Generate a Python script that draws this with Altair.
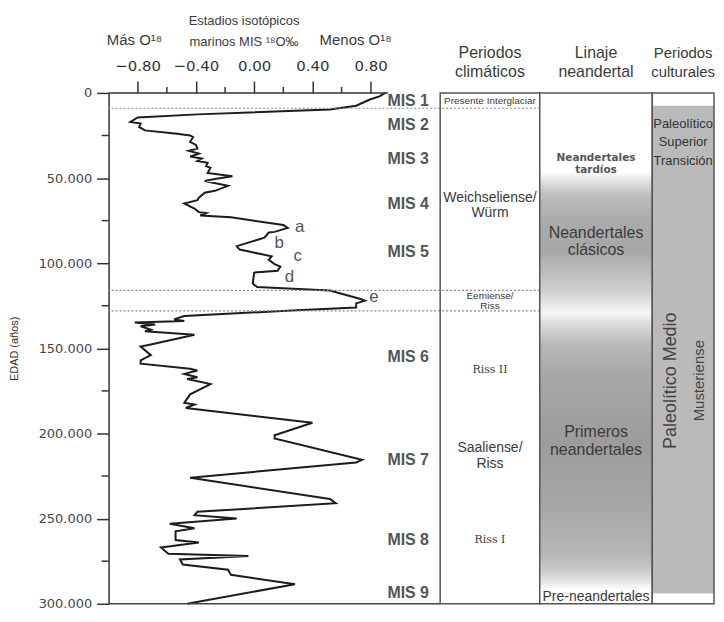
import altair as alt
import pandas as pd

# ---------------- data ----------------
# delta 18O curve (age in thousands of years, value in per mil)
age_k = [0, 2, 4, 7.5, 9.8, 12.6, 14.4, 17, 18, 20, 22, 24, 25, 26, 28.7, 30.5, 32.7, 34, 35.6,
         37.4, 38.5, 40, 41, 43, 44, 47, 49, 50.6, 51.7, 54.6, 57.5, 58.6, 61.5, 63, 65, 68, 70,
         70.5, 72, 73, 77.6, 79.3, 81.6, 82, 85, 90, 92, 96, 98, 100.5, 102, 104.5, 105.5, 112,
         114, 116, 121, 122, 123.6, 126, 127.6, 131, 133, 134, 134.8, 136, 137, 139, 140, 142,
         147.7, 149, 154, 157, 159, 162, 163, 165, 167, 168, 171, 177, 182, 183, 185, 193.7, 201,
         203, 215.5, 217, 226, 238.5, 241, 246, 248, 250, 253, 255.7, 257.5, 262.6, 264, 267,
         270.7, 272, 274, 277, 280, 283, 288.5, 300]
d18o = [0.90, 0.86, 0.79, 0.70, 0.52, -0.39, -0.80, -0.85, -0.78, -0.79, -0.75, -0.53, -0.44,
        -0.42, -0.44, -0.40, -0.39, -0.45, -0.38, -0.44, -0.36, -0.39, -0.32, -0.33, -0.30, -0.32,
        -0.15, -0.27, -0.34, -0.18, -0.27, -0.34, -0.38, -0.39, -0.48, -0.41, -0.38, -0.33, -0.37,
        -0.16, 0.20, 0.23, 0.14, 0.10, 0.07, -0.12, -0.10, 0.12, 0.10, 0.14, 0.18, 0.16, 0.00,
        -0.01, 0.02, 0.52, 0.73, 0.76, 0.70, 0.70, 0.29, -0.48, -0.55, -0.48, -0.82, -0.68, -0.78,
        -0.71, -0.75, -0.41, -0.71, -0.78, -0.71, -0.78, -0.78, -0.44, -0.39, -0.48, -0.39, -0.46,
        -0.30, -0.44, -0.48, -0.41, -0.47, 0.40, 0.14, 0.14, 0.74, 0.70, -0.44, 0.52, 0.56, -0.39,
        -0.41, -0.12, -0.58, -0.41, -0.54, -0.54, -0.38, -0.64, -0.59, -0.04, -0.51, -0.49, -0.18,
        -0.16, 0.28, -0.46]

mis_labels = ["MIS 1", "MIS 2", "MIS 3", "MIS 4", "MIS 5", "MIS 6", "MIS 7", "MIS 8", "MIS 9"]
mis_age_k = [4.6, 19, 39, 65, 93.7, 155, 215.5, 262.6, 293.7]

peak_labels = ["a", "b", "c", "d", "e"]
peak_x = [0.28, 0.14, 0.27, 0.21, 0.79]
peak_age_k = [78.7, 88, 96, 108, 120]

boundary_age_k = [9, 116, 128]

x_major = [-0.8, -0.4, 0.0, 0.4, 0.8]
x_minor = [-0.6, -0.2, 0.2, 0.6]
x_axis_extent = [-1.0, 0.92]
y_major = [0, 50000, 100000, 150000, 200000, 250000, 300000]
y_minor = [25000, 75000, 125000, 175000, 225000, 275000]

climate_small_text = ["Presente Interglaciar", "Eemiense/", "Riss"]
climate_small_age_k = [4.6, 119, 125]
climate_main_text = ["Weichseliense/", "Würm", "Saaliense/", "Riss"]
climate_main_age_k = [62, 70.7, 208.6, 218]
climate_serif_text = ["Riss II", "Riss I"]
climate_serif_age_k = [162.6, 262.6]

lineage_small_text = ["Neandertales", "tardíos"]
lineage_small_age_k = [38, 45.5]
lineage_main_text = ["Neandertales", "clásicos", "Primeros", "neandertales"]
lineage_main_age_k = [82.5, 92.5, 199.4, 209.8]
lineage_pre_text = ["Pre-neandertales"]
lineage_pre_age_k = [296]

# lineage shading (age in k, grey level)
shade_age_k = [0, 46, 53, 60, 75, 93, 105, 116, 124, 129, 135, 148, 165, 204, 242, 271, 280, 288, 292, 300]
shade_color = ["#ffffff", "#ffffff", "#dcdcdc", "#bdbdbd", "#aaaaaa", "#a8a8a8", "#bcbcbc", "#cfcfcf",
               "#e6e6e6", "#f6f6f6", "#dedede", "#b8b8b8", "#a8a8a8", "#9c9c9c", "#a6a6a6", "#b6b6b6",
               "#c8c8c8", "#ebebeb", "#ffffff", "#ffffff"]

cultural_span_k = [7.5, 294]
cultural_text = ["Paleolítico", "Superior", "Transición"]
cultural_age_k = [18.4, 28.7, 40.2]
cultural_vertical_text = ["Paleolítico Medio", "Musteriense"]
cultural_vertical_age_k = [169, 169]

# ---------------- chart ----------------
H = 513
W1, W2, W3, W4 = 333, 100, 113, 62
PX_PER_UNIT = 146.25
FONT = "Liberation Sans"
TXT = "#3a3a3a"

yscale = alt.Scale(domain=[0, 300000], reverse=True, nice=False, zero=False)
xscale = alt.Scale(domain=[-1.0, -1.0 + W1 / PX_PER_UNIT], nice=False, zero=False)

AX_X = alt.Axis(
    orient="top", values=x_major, format=".2f", tickSize=12, domain=False, grid=False,
    title=None, labelFontSize=15, labelFont="DejaVu Sans", labelColor="#333",
    labelPadding=8, tickColor="#333", tickWidth=1.5)
AX_Y = alt.Axis(
    orient="left", values=y_major, labelExpr="replace(format(datum.value, ','), ',', '.')",
    tickSize=12, grid=False, labelFontSize=13, labelFont="DejaVu Sans", labelColor="#444",
    labelPadding=5, tickColor="#333", tickWidth=1.5, domainColor="#333", domainWidth=1.5,
    title="EDAD (años)", titleFont=FONT, titleFontSize=11, titleFontWeight="normal",
    titleColor="#333", titlePadding=19)


def df_of(**cols):
    return pd.DataFrame(cols)


def Y(field="age"):
    return alt.Y(f"{field}:Q", scale=yscale, axis=None)


def Y1(field="age"):
    return alt.Y(f"{field}:Q", scale=yscale, axis=AX_Y)


def X1(field="v"):
    return alt.X(f"{field}:Q", scale=xscale, axis=AX_X)


def header(text, x, y, size=16):
    return alt.Chart(pd.DataFrame({"t": [text]})).mark_text(
        font=FONT, fontSize=size, color=TXT, align="center", baseline="middle"
    ).encode(text="t:N", x=alt.value(x), y=alt.value(y))


def frame(w):
    return alt.Chart(pd.DataFrame({"a": [0], "b": [300000]})).mark_rect(
        fillOpacity=0, stroke="#555", strokeWidth=1.5
    ).encode(x=alt.value(0), x2=alt.value(w), y=Y("a"), y2="b:Q")


curve = df_of(age=[a * 1000 for a in age_k], v=d18o)

line = alt.Chart(curve).mark_line(color="#1c1c1c", strokeWidth=2).encode(
    x=X1("v"), y=Y1("age"), order="age:Q")

top_axis = alt.Chart(df_of(v=[x_axis_extent[0]], b=[x_axis_extent[1]], age=[0])).mark_rule(
    color="#333", strokeWidth=1.5).encode(x=X1("v"), x2="b:Q", y=Y1("age"))

minor_x = alt.Chart(df_of(v=x_minor)).mark_rule(color="#333", strokeWidth=1.5).encode(
    x=X1("v"), y=alt.value(-6), y2=alt.value(0))

minor_y = alt.Chart(df_of(age=y_minor)).mark_rule(color="#333", strokeWidth=1.5).encode(
    y=Y1("age"), x=alt.value(-7), x2=alt.value(0))

bounds_df = df_of(age=[a * 1000 for a in boundary_age_k])
dotted1 = alt.Chart(bounds_df).mark_rule(color="#888", strokeDash=[2, 2], strokeWidth=1.2).encode(y=Y1())
dotted = alt.Chart(bounds_df).mark_rule(color="#888", strokeDash=[2, 2], strokeWidth=1.2).encode(y=Y())

bottom = alt.Chart(df_of(age=[300000])).mark_rule(color="#444", strokeWidth=1.5).encode(y=Y1())

mis = alt.Chart(df_of(t=mis_labels, age=[a * 1000 for a in mis_age_k])).mark_text(
    font=FONT, fontSize=16, fontWeight="bold", color="#555", align="left", baseline="middle"
).encode(text="t:N", x=alt.value(280), y=Y1())

peaks = alt.Chart(df_of(t=peak_labels, v=peak_x, age=[a * 1000 for a in peak_age_k])).mark_text(
    font=FONT, fontSize=17, color="#555", align="left", baseline="middle"
).encode(text="t:N", x=X1("v"), y=Y1())

p1 = alt.layer(
    line, dotted1, bottom, top_axis, minor_x, minor_y, mis, peaks,
    header("Estadios isotópicos", 136, -72, 13),
    header("marinos MIS ¹⁸O‰", 136, -51, 13),
    header("Más O¹⁸", 26, -53, 15),
    header("Menos O¹⁸", 248, -53, 15),
).properties(width=W1, height=H)


def col_text(texts, ages_k, w, **kw):
    style = dict(font=FONT, color=TXT, align="center", baseline="middle")
    style.update(kw)
    return alt.Chart(df_of(t=texts, age=[a * 1000 for a in ages_k])).mark_text(**style).encode(
        text="t:N", x=alt.value(w / 2), y=Y())


# climate column
p2 = alt.layer(
    dotted,
    col_text(climate_small_text, climate_small_age_k, W2, fontSize=10),
    col_text(climate_main_text, climate_main_age_k, W2, fontSize=14),
    col_text(climate_serif_text, climate_serif_age_k, W2, fontSize=11, font="DejaVu Serif"),
    frame(W2),
    header("Periodos", W2 / 2, -40),
    header("climáticos", W2 / 2, -21),
).properties(width=W2, height=H)

# lineage column
grad = alt.LinearGradient(
    gradient="linear", x1=0, x2=0, y1=0, y2=1,
    stops=[alt.GradientStop(offset=a / 300, color=c) for a, c in zip(shade_age_k, shade_color)],
)
shade = alt.Chart(df_of(a=[0], b=[300000])).mark_rect(color=grad).encode(
    x=alt.value(0), x2=alt.value(W3), y=Y("a"), y2="b:Q")

p3 = alt.layer(
    shade,
    col_text(lineage_small_text, lineage_small_age_k, W3, fontSize=10.5, fontWeight="bold",
             font="DejaVu Sans", color="#555"),
    col_text(lineage_main_text, lineage_main_age_k, W3, fontSize=16),
    col_text(lineage_pre_text, lineage_pre_age_k, W3, fontSize=14),
    frame(W3),
    header("Linaje", W3 / 2, -40),
    header("neandertal", W3 / 2, -21),
).properties(width=W3, height=H)

# cultural column
cult_fill = alt.Chart(df_of(a=[cultural_span_k[0] * 1000], b=[cultural_span_k[1] * 1000])).mark_rect(
    color="#bababa").encode(x=alt.value(0), x2=alt.value(W4), y=Y("a"), y2="b:Q")

vert_medio = alt.Chart(df_of(t=cultural_vertical_text[:1], age=[cultural_vertical_age_k[0] * 1000])).mark_text(
    font=FONT, fontSize=18, color="#444", angle=270, align="center", baseline="middle"
).encode(text="t:N", y=Y(), x=alt.value(19))
vert_must = alt.Chart(df_of(t=cultural_vertical_text[1:], age=[cultural_vertical_age_k[1] * 1000])).mark_text(
    font=FONT, fontSize=15, color="#444", angle=270, align="center", baseline="middle"
).encode(text="t:N", y=Y(), x=alt.value(47))

p4 = alt.layer(
    cult_fill,
    col_text(cultural_text, cultural_age_k, W4, fontSize=13, color="#333"),
    vert_medio, vert_must,
    frame(W4),
    header("Periodos", W4 / 2, -40, 15),
    header("culturales", W4 / 2, -21, 15),
).properties(width=W4, height=H)

chart = alt.hconcat(p1, p2, p3, p4, spacing=0, bounds="flush").configure_view(
    stroke=None).properties(padding={"left": 0, "top": 6, "right": 0, "bottom": 0})

chart.save("out.html", embed_options={"renderer": "svg", "actions": False})
